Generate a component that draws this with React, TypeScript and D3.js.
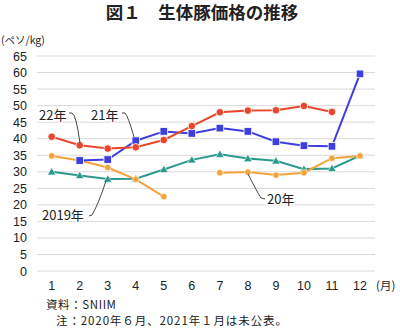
import React from "react";
import * as d3 from "d3";

const months = [1, 2, 3, 4, 5, 6, 7, 8, 9, 10, 11, 12];
const yTicks = [0, 5, 10, 15, 20, 25, 30, 35, 40, 45, 50, 55, 60, 65];
const s2019: (number | null)[] = [30.0, 28.9, 27.8, 27.9, 30.7, 33.6, 35.3, 34.0, 33.3, 30.8, 31.0, 34.9];
const s2020: (number | null)[] = [34.8, 33.4, 31.3, 27.7, 22.5, null, 29.7, 29.9, 29.0, 29.7, 34.1, 34.8];
const s2021: (number | null)[] = [null, 33.4, 33.7, 39.4, 42.2, 41.6, 43.2, 42.2, 39.1, 37.9, 37.7, 59.6];
const s2022: (number | null)[] = [40.6, 38.0, 37.0, 37.4, 39.6, 43.8, 48.0, 48.5, 48.6, 49.9, 48.1, null];

const JP = "'Noto Sans CJK JP', sans-serif";
const NUM = "'Liberation Sans', Arial, sans-serif";

export default function App() {
  const x = d3.scaleLinear().domain([1, 12]).range([51.7, 360]);
  const y = d3.scaleLinear().domain([0, 65]).range([271, 56]);

  const lineGen = d3
    .line<number | null>()
    .defined((d) => d !== null)
    .x((_, i) => x(months[i]))
    .y((d) => y(d as number));

  const series = [
    { data: s2019, color: "#2a9a8c", marker: "tri" },
    { data: s2020, color: "#f2a33a", marker: "dot" },
    { data: s2021, color: "#3d3de0", marker: "sq" },
    { data: s2022, color: "#e8472e", marker: "circ" },
  ];

  const marker = (type: string, cx: number, cy: number, color: string, key: string) => {
    if (type === "sq")
      return <rect key={key} x={cx - 3.8} y={cy - 3.8} width={7.6} height={7.6} fill={color} stroke="#fff" strokeWidth={0.8} />;
    if (type === "circ")
      return <circle key={key} cx={cx} cy={cy} r={3.8} fill={color} stroke="#fff" strokeWidth={0.8} />;
    if (type === "dot")
      return <circle key={key} cx={cx} cy={cy} r={3.2} fill={color} stroke="#fff" strokeWidth={0.6} />;
    const s = 4.2;
    return (
      <path
        key={key}
        d={`M${cx},${cy - s} L${cx + s},${cy + s * 0.75} L${cx - s},${cy + s * 0.75} Z`}
        fill={color}
        stroke="#fff"
        strokeWidth={0.6}
      />
    );
  };

  const annotations = [
    { text: "22年", tx: 39, ty: 120, path: "M69,113 L72,113 Q76,114 80,143" },
    { text: "21年", tx: 91, ty: 120, path: "M122,113 L125,113 Q128,116 134,137" },
    { text: "2019年", tx: 42, ty: 220, path: "M89,216 L92,215 Q98,205 106,181" },
    { text: "20年", tx: 267, ty: 204, path: "M265,199 L261,198 Q256,190 248,174" },
  ];

  return (
    <svg width={400} height={329} style={{ position: "absolute", left: 0, top: 0, background: "#fff" }}>
      <text x={202} y={19} textAnchor="middle" fontFamily={JP} fontWeight="bold" fontSize={17.5} fill="#222">
        図１　生体豚価格の推移
      </text>
      <text x={1} y={44} fontFamily={JP} fontSize={10.5} fill="#222">
        (ペソ/kg)
      </text>
      {yTicks.map((t) => (
        <g key={t}>
          <line x1={37} x2={375} y1={y(t)} y2={y(t)} stroke="#d9d9d9" strokeWidth={1} />
          <text x={27} y={y(t) + 4.5} textAnchor="end" fontFamily={NUM} fontSize={12.5} fill="#222">
            {t}
          </text>
        </g>
      ))}
      {months.map((m) => (
        <text key={m} x={x(m)} y={290} textAnchor="middle" fontFamily={NUM} fontSize={12.5} fill="#222">
          {m}
        </text>
      ))}
      <text x={376} y={290} fontFamily={JP} fontSize={11.5} fill="#222">
        (月)
      </text>
      {series.map((s, si) => (
        <g key={si}>
          <path d={lineGen(s.data) || ""} fill="none" stroke={s.color} strokeWidth={2} />
          {s.data.map((v, i) => (v === null ? null : marker(s.marker, x(months[i]), y(v), s.color, `${si}-${i}`)))}
        </g>
      ))}
      {annotations.map((a, i) => (
        <g key={i}>
          <path d={a.path} fill="none" stroke="#333" strokeWidth={0.9} />
          <text x={a.tx} y={a.ty} fontFamily={JP} fontSize={13} fill="#222" stroke="#fff" strokeWidth={3} paintOrder="stroke">
            {a.text}
          </text>
        </g>
      ))}
      <text x={46} y={309} fontFamily={JP} fontSize={11.5} letterSpacing={0.6} fill="#222">
        資料：SNIIM
      </text>
      <text x={56} y={325} fontFamily={JP} fontSize={11.5} letterSpacing={0.9} fill="#222">
        注：2020年６月、2021年１月は未公表。
      </text>
    </svg>
  );
}
